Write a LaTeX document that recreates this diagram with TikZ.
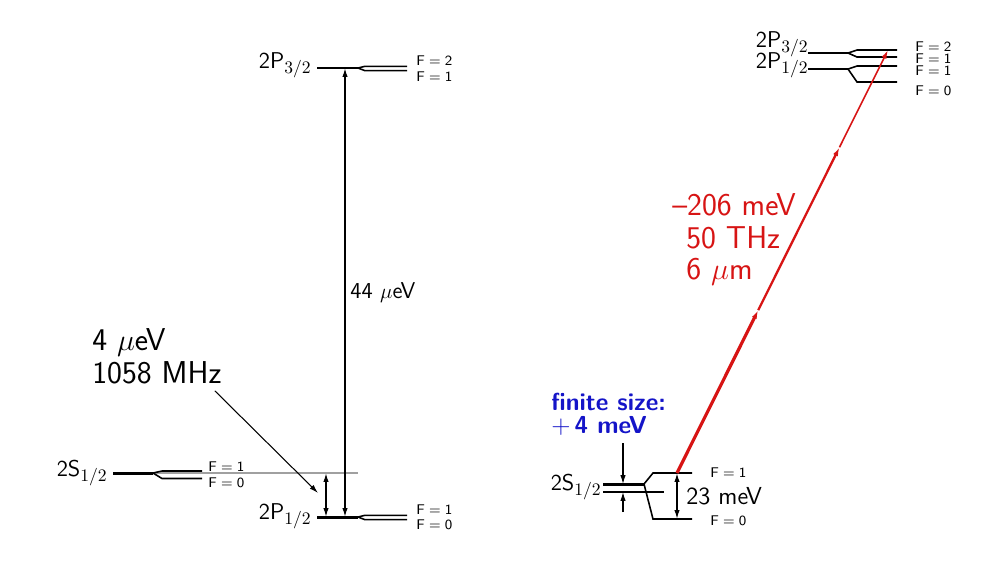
\documentclass[tikz,border=0pt]{standalone}
\usepackage{amsmath}
\usepackage{tikz}
\usetikzlibrary{arrows.meta,calc}

\definecolor{trans}{RGB}{215,20,20}
\definecolor{fsblue}{RGB}{20,20,200}
\definecolor{lgray}{RGB}{160,160,160}

\newcommand{\jsub}[1]{$_{\mbox{\fontsize{10}{11}\selectfont$#1$}}$}

\tikzset{
    lvl/.style={line width=1.7pt},
    hfs/.style={line width=0.9pt},
    gap/.style={<->, line width=0.8pt},
    lvllabel/.style={font=\sffamily\fontsize{13}{15}\selectfont, anchor=base east, inner sep=0pt, text height=8pt, text depth=0pt},
    flabel/.style={font=\sffamily\fontsize{8}{9}\selectfont, anchor=base west, inner sep=0pt, text height=5.4pt, text depth=0pt},
    biglabel/.style={font=\sffamily\fontsize{18}{21}\selectfont, anchor=base west, inner sep=0pt},
}

\begin{document}
\begin{tikzpicture}[x=0.02cm, y=-0.02cm, >={Latex[length=5pt,width=3pt]}]
    \useasboundingbox (0,0) rectangle (985,579);

    % left: hydrogen-like levels
    \draw[lvl] (317,68) -- (358,68);
    \draw[hfs] (358,68) -- (365,66.3) -- (407,66.3);
    \draw[hfs] (358,68) -- (365,70.7) -- (407,70.7);
    \node[lvllabel] (lP32) at (312,68) {2P\jsub{3/2}};
    \node[flabel] (lP32a) at (416,65) {F${}={}$2};
    \node[flabel] (lP32b) at (416,81) {F${}={}$1};

    \draw[lgray, line width=0.8pt] (153,473) -- (358,473);
    \draw[lvl] (113,473) -- (153,473);
    \draw[hfs] (153,473) -- (162,471) -- (202,471);
    \draw[hfs] (153,473) -- (162,478.5) -- (202,478.5);
    \node[lvllabel] (lS12) at (108,476) {2S\jsub{1/2}};
    \node[flabel] (lS12a) at (208,471) {F${}={}$1};
    \node[flabel] (lS12b) at (208,487) {F${}={}$0};

    \draw[lvl] (317,517) -- (358,517);
    \draw[hfs] (358,517) -- (365,515.3) -- (407,515.3);
    \draw[hfs] (358,517) -- (365,519.7) -- (407,519.7);
    \node[lvllabel] (lP12) at (312,519) {2P\jsub{1/2}};
    \node[flabel] (lP12a) at (416,514) {F${}={}$1};
    \node[flabel] (lP12b) at (416,529) {F${}={}$0};

    \coordinate (fsTopL) at (345,68);
    \coordinate (fsBotL) at (345,517);
    \coordinate (lambTop) at (326,473);
    \coordinate (lambBot) at (326,517);
    \draw[gap] (fsBotL) -- (fsTopL);
    \draw[gap] (lambBot) -- (lambTop);
    \node[biglabel, font=\sffamily\fontsize{13}{15}\selectfont] (fsval) at (350,298) {44 $\mu$eV};

    \node[biglabel] (lambA) at (92,350) {4 $\mu$eV};
    \node[biglabel] (lambB) at (92,383) {1058 MHz};
    \coordinate (lambEnd) at (318,493);
    \draw[->, line width=0.6pt] ([shift={(-7,7)}]lambB.south east) -- (lambEnd);

    % right: muonic levels
    \draw[lvl] (808,53) -- (848,53);
    \draw[hfs] (848,53) -- (857,50) -- (897,50);
    \draw[hfs] (848,53) -- (857,57) -- (897,57);
    \draw[lvl] (808,69) -- (848,69);
    \draw[hfs] (848,69) -- (857,66) -- (897,66);
    \draw[hfs] (848,69) -- (857,82) -- (897,82);
    \node[lvllabel] (rP32) at (809,47) {2P\jsub{3/2}};
    \node[lvllabel] (rP12) at (809,68) {2P\jsub{1/2}};
    \node[flabel] (rP32a) at (915,51) {F${}={}$2};
    \node[flabel] (rP32b) at (915,63) {F${}={}$1};
    \node[flabel] (rP12a) at (915,75) {F${}={}$1};
    \node[flabel] (rP12b) at (915,95) {F${}={}$0};

    \draw[line width=0.6pt] (603,492) -- (664,492);
    \draw[lvl] (603,484) -- (644,484);
    \draw[hfs] (644,484) -- (653,473) -- (692,473);
    \draw[hfs] (644,484) -- (653,519) -- (692,519);
    \node[lvllabel] (rS12) at (602,490) {2S\jsub{1/2}};
    \node[flabel] (rS12a) at (710,477) {F${}={}$1};
    \node[flabel] (rS12b) at (710,525) {F${}={}$0};

    \coordinate (hfsTop) at (677,473);
    \coordinate (hfsBot) at (677,519);
    \draw[gap] (hfsBot) -- (hfsTop);
    \node[biglabel, font=\sffamily\fontsize{14}{17}\selectfont] (hfsval) at (686,504) {23 meV};

    \coordinate (fsA) at (623,443);
    \coordinate (fsB) at (623,484);
    \coordinate (fsC) at (623,512);
    \coordinate (fsD) at (623,492);
    \draw[->, line width=0.6pt] (fsA) -- (fsB);
    \draw[->, line width=0.6pt] (fsC) -- (fsD);
    \node[biglabel, fsblue, font=\sffamily\bfseries\fontsize{14}{17}\selectfont] (fsA1) at (551,410) {finite size:};
    \node[biglabel, fsblue, font=\sffamily\bfseries\fontsize{14}{17}\selectfont] (fsA2) at (551,433) {$+$\,4 meV};

    \coordinate (sF1) at (677,473);
    \coordinate (pF2) at (888,50);
    \coordinate (m1) at ($(sF1)!0.385!(pF2)$);
    \coordinate (m2) at ($(sF1)!0.77!(pF2)$);
    \draw[trans, line width=1.8pt, -{Latex[length=5pt,width=3pt]}] (sF1) -- (m1);
    \draw[trans, line width=1.3pt, -{Latex[length=5pt,width=3pt]}] (m1) -- (m2);
    \draw[trans, line width=0.9pt, -{Latex[length=5pt,width=3pt]}] (m2) -- (pF2);
    \node[biglabel, trans] (tr1) at (672,215) {--206 meV};
    \node[biglabel, trans] (tr2) at (686,248) {50 THz};
    \node[biglabel, trans] (tr3) at (686,279) {6 $\mu$m};
\end{tikzpicture}
\end{document}
